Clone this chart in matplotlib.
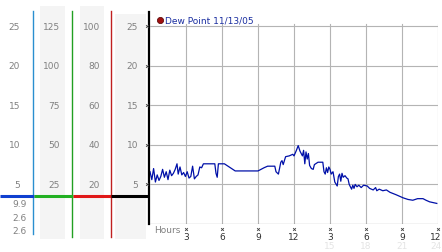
import matplotlib
matplotlib.use("Agg")
import matplotlib.pyplot as plt
import matplotlib.transforms as mtrans

# dew point readings, hours from midnight
hours = [0.0, 0.15, 0.3, 0.45, 0.6, 0.75, 0.9, 1.05, 1.2, 1.35, 1.5, 1.65, 1.8, 1.95,
         2.1, 2.25, 2.35, 2.5, 2.65, 2.8, 2.95, 3.1, 3.25, 3.4, 3.55, 3.7, 3.85, 4.0,
         4.15, 4.3, 4.45, 4.6, 5.4, 5.5, 5.6, 5.7, 6.2, 6.6, 7.1, 9.0, 9.5, 9.8, 10.4,
         10.5, 10.7, 10.9, 11.0, 11.1, 11.3, 11.6, 11.9, 12.0, 12.2, 12.35, 12.5, 12.7,
         12.8, 12.9, 13.0, 13.1, 13.2, 13.3, 13.45, 13.6, 13.7, 14.0, 14.4, 14.5, 14.6,
         14.7, 14.8, 14.9, 15.0, 15.1, 15.25, 15.4, 15.6, 15.7, 15.8, 15.9, 16.0, 16.1,
         16.25, 16.4, 16.5, 16.6, 16.8, 16.9, 17.0, 17.1, 17.25, 17.4, 17.6, 17.8, 18.1,
         18.3, 18.6, 18.8, 18.9, 19.1, 19.4, 19.7, 20.0, 20.5, 21.1, 21.5, 21.9, 22.3,
         22.75, 23.0, 23.3, 23.6, 23.9]
dew = [6.6, 5.6, 7.0, 5.3, 6.2, 5.5, 6.0, 6.9, 5.9, 6.6, 5.6, 6.8, 6.1, 6.4,
       6.9, 7.6, 6.3, 7.2, 6.2, 6.5, 6.0, 6.6, 5.8, 6.0, 7.3, 5.7, 6.0, 6.2,
       7.2, 7.1, 7.6, 7.6, 7.6, 6.4, 5.9, 7.6, 7.6, 7.2, 6.7, 6.7, 7.1, 7.3, 7.3,
       6.6, 6.3, 7.8, 8.0, 7.5, 8.5, 8.6, 8.8, 8.6, 9.3, 9.9, 9.2, 8.6,
       9.3, 7.6, 9.1, 8.2, 8.9, 7.4, 7.0, 6.9, 7.5, 7.8, 7.8, 6.6, 6.3,
       7.1, 6.5, 7.2, 6.9, 6.3, 6.6, 5.3, 4.8, 6.0, 6.3, 5.4, 6.4, 5.9,
       6.1, 5.8, 5.7, 5.0, 4.4, 4.9, 4.5, 5.0, 4.7, 4.9, 4.6, 4.9, 4.8,
       4.5, 4.3, 4.6, 4.2, 4.4, 4.2, 4.3, 4.0, 3.7, 3.3, 3.1, 3.0, 3.2,
       3.2, 3.0, 2.8, 2.7, 2.6]

scale1 = [5, 10, 15, 20, 25]
scale2 = [25, 50, 75, 100, 125]
scale3 = [20, 40, 60, 80, 100]
scale4 = [5, 10, 15, 20, 25]
extra_labels = ["9.9", "2.6", "2.6"]
xticks = [3, 6, 9, 12, 15, 18, 21, 24]
xlabels = ["3", "6", "9", "12", "3", "6", "9", "12"]
faint_labels = ["15", "18", "21", "24"]
legend_text = "Dew Point 11/13/05"

W, H = 442, 253
fig = plt.figure(figsize=(W / 100, H / 100), dpi=100)

# background layer in pixel coordinates
bg = fig.add_axes([0, 0, 1, 1])
bg.set_xlim(0, W)
bg.set_ylim(H, 0)
bg.axis("off")
bg.set_zorder(0)

ax = fig.add_axes([150 / W, 28 / H, 288 / W, 212 / H])
ax.set_zorder(1)
ax.patch.set_alpha(0)
ax.set_xlim(0, 24)
ax.set_ylim(0, 212 / 7.92)
for s in ["top", "right", "bottom", "left"]:
    ax.spines[s].set_visible(False)
ax.set_xticks([])
ax.set_yticks([])

# grey column bands
for x0, x1, y0 in [(40, 65, 7), (80, 104, 7), (115, 146, 15)]:
    bg.fill_between([x0, x1], y0, 240, color="#f4f4f4", lw=0)

# coloured axis lines
bg.plot([33, 33], [12, 235], color="#2a8fd0", lw=1)
bg.plot([72, 72], [12, 238], color="#22a022", lw=1)
bg.plot([111, 111], [12, 238], color="#c02020", lw=1)
bg.plot([149, 149], [13, 225], color="black", lw=1.6)
bg.plot([0, 34], [197, 197], color="#1040d0", lw=2.2, solid_capstyle="butt")
bg.plot([34, 73], [197, 197], color="#22b022", lw=2.2, solid_capstyle="butt")
bg.plot([73, 111], [197, 197], color="#e01818", lw=2.2, solid_capstyle="butt")
bg.plot([111, 149], [197, 197], color="black", lw=2.2, solid_capstyle="butt")

# scale labels, positioned on the main y scale
tr = mtrans.blended_transform_factory(bg.transData, ax.transData)
lab = dict(fontsize=6.5, color="#808080", ha="right", va="center")
for i, v in enumerate(scale1):
    bg.text(20, v, str(v), transform=tr, **lab)
    bg.text(60, v, str(scale2[i]), transform=tr, **lab)
    bg.text(100, v, str(scale3[i]), transform=tr, **lab)
    bg.text(138, v, str(scale4[i]), transform=tr, **lab)
    bg.plot([147], [v], marker="x", ms=2, mew=0.6, color="#404040", transform=tr)
for i, t in enumerate(extra_labels):
    bg.text(27, 205 + i * 13.5, t, **lab)

# grid
for v in scale4:
    ax.plot([0, 24], [v, v], color="#b4b4b4", lw=0.8, zorder=1)
for x in xticks:
    ax.plot([x, x], [0, 25.3], color="#b4b4b4", lw=0.8, zorder=1)
ax.plot([0, 24], [0, 0], color="#303030", lw=0.8, zorder=2)

ax.plot(hours, dew, color="#0010a8", lw=0.9, zorder=3)

# x labels (last ones kept inside the right edge)
trx = mtrans.blended_transform_factory(ax.transData, bg.transData)
for x, t in zip(xticks, xlabels):
    if x == xticks[-1]:
        bg.text(441.5, 238, t, fontsize=6.5, color="#303030", ha="right", va="center")
    else:
        bg.text(x, 238, t, transform=trx, fontsize=6.5, color="#303030", ha="center", va="center")
    bg.plot([x], [230], marker="x", ms=2, mew=0.6, color="#404040", transform=trx)
for x, t in zip(xticks[4:], faint_labels):
    if x == xticks[-1]:
        bg.text(441.5, 247, t, fontsize=6.5, color="#e4e4e4", ha="right", va="center")
    else:
        bg.text(x, 247, t, transform=trx, fontsize=6.5, color="#e4e4e4", ha="center", va="center")
bg.text(154, 231, "Hours", fontsize=6.5, color="#808080", ha="left", va="center")

# legend
bg.plot([160], [21], marker="o", ms=4.5, color="#a01010", mec="#500000", mew=0.5)
bg.text(165, 21, legend_text, fontsize=6.5, color="#1a2ea0", ha="left", va="center")

fig.savefig("out.png", dpi=100)
